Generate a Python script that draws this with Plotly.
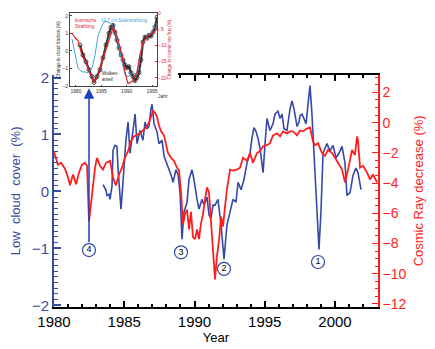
import plotly.graph_objects as go

# ---------------- main series ----------------
# Low cloud cover anomaly (%)
cloud_year = [1983.49, 1983.70, 1983.77, 1983.91, 1983.99, 1984.13, 1984.20, 1984.34, 1984.48, 1984.56,
              1984.77, 1984.91, 1985.12, 1985.27, 1985.41, 1985.62, 1985.77, 1985.91, 1986.12, 1986.33,
              1986.48, 1986.62, 1986.76, 1986.90, 1986.98, 1987.12, 1987.33, 1987.47, 1987.69, 1987.83,
              1987.97, 1988.11, 1988.33, 1988.47, 1988.68, 1988.83, 1988.97, 1989.11, 1989.25, 1989.47,
              1989.61, 1989.82, 1989.96, 1990.18, 1990.32, 1990.53, 1990.68, 1990.89, 1991.03, 1991.17,
              1991.32, 1991.46, 1991.67, 1991.89, 1992.10, 1992.31, 1992.53, 1992.74, 1992.95, 1993.10,
              1993.31, 1993.52, 1993.74, 1993.95, 1994.09, 1994.23, 1994.38, 1994.52, 1994.66, 1994.88,
              1995.02, 1995.16, 1995.37, 1995.59, 1995.73, 1995.94, 1996.09, 1996.23, 1996.37, 1996.58,
              1996.80, 1996.94, 1997.08, 1997.30, 1997.44, 1997.51, 1997.65, 1997.79, 1997.94, 1998.08,
              1998.22, 1998.36, 1998.51, 1998.65, 1998.79, 1998.86, 1999.00, 1999.15, 1999.29, 1999.43,
              1999.64, 1999.86, 2000.07, 2000.28, 2000.50, 2000.71, 2000.85, 2001.07, 2001.28, 2001.49,
              2001.64, 2001.85]
cloud_pct = [0.12, 0.02, -0.07, -0.05, -0.14, 0.10, 0.72, 0.81, 0.79, 0.38,
             -0.31, 0.21, 0.90, 1.22, 0.67, 1.07, 1.36, 0.84, 1.07, 0.90,
             1.22, 1.10, 1.14, 1.45, 1.53, 1.19, 1.05, 0.84, 0.90, 0.62,
             0.53, 0.41, 0.29, 0.16, 0.38, 0.29, -0.02, -0.84, -0.36, -0.19,
             0.21, 0.38, 0.21, -0.14, -0.31, -0.14, -0.24, -0.10, -0.41, -0.48,
             -0.24, -0.24, -0.14, -0.59, -1.19, -0.59, -0.36, -0.14, -0.19, 0.16,
             0.03, 0.21, 0.50, 0.67, 0.93, 1.12, 1.05, 0.93, 0.76, 0.33,
             0.84, 1.28, 1.07, 1.19, 1.36, 1.41, 1.28, 1.36, 1.10, 1.07,
             1.45, 1.59, 1.45, 1.14, 1.22, 1.33, 1.36, 1.28, 1.19, 1.53,
             1.86, 1.36, 0.67, -0.19, -0.79, -1.02, -0.36, 0.67, 0.76, 0.84,
             0.71, 0.81, 0.59, 0.67, 0.79, 0.50, -0.07, -0.02, 0.28, 0.41,
             0.33, 0.03]

# Cosmic ray decrease (%)
cr_year = [1980.00, 1980.28, 1980.50, 1980.78, 1981.00, 1981.14, 1981.35, 1981.57, 1981.78, 1981.99,
           1982.21, 1982.35, 1982.49, 1982.70, 1982.92, 1983.06, 1983.27, 1983.49, 1983.70, 1983.99,
           1984.20, 1984.41, 1984.63, 1984.84, 1985.05, 1985.27, 1985.48, 1985.69, 1985.91, 1986.12,
           1986.33, 1986.55, 1986.76, 1986.90, 1987.05, 1987.19, 1987.33, 1987.47, 1987.62, 1987.83,
           1987.97, 1988.11, 1988.33, 1988.54, 1988.75, 1988.90, 1989.04, 1989.18, 1989.32, 1989.47,
           1989.61, 1989.75, 1989.89, 1990.04, 1990.18, 1990.32, 1990.46, 1990.60, 1990.75, 1990.89,
           1991.03, 1991.17, 1991.32, 1991.46, 1991.60, 1991.74, 1991.89, 1992.03, 1992.17, 1992.31,
           1992.53, 1992.74, 1993.02, 1993.24, 1993.45, 1993.74, 1993.95, 1994.16, 1994.45, 1994.66,
           1994.88, 1995.16, 1995.37, 1995.59, 1995.87, 1996.09, 1996.30, 1996.58, 1996.80, 1997.01,
           1997.30, 1997.51, 1997.72, 1998.01, 1998.22, 1998.36, 1998.43, 1998.58, 1998.79, 1999.07,
           1999.29, 1999.50, 1999.79, 2000.00, 2000.21, 2000.50, 2000.71, 2000.93, 2001.21, 2001.42,
           2001.57, 2001.64, 2001.78, 2001.99, 2002.28, 2002.49, 2002.70, 2002.99]
cr_pct = [-1.94, -2.79, -2.66, -3.05, -3.63, -4.15, -3.43, -4.08, -3.31, -2.79,
          -2.66, -2.85, -6.55, -4.93, -2.98, -2.33, -2.85, -3.11, -2.66, -2.53,
          -3.63, -4.15, -3.43, -2.98, -2.33, -1.88, -1.23, -0.91, -0.78, -0.71,
          -0.52, -0.32, 0.00, 0.32, 0.78, 0.65, 0.39, -0.19, -0.58, -0.84,
          -1.36, -2.01, -2.33, -2.53, -2.98, -3.18, -4.60, -6.74, -6.03, -5.77,
          -7.06, -5.90, -7.58, -7.71, -7.06, -7.71, -6.68, -6.09, -5.06, -4.28,
          -4.60, -6.42, -8.49, -10.37, -8.81, -7.84, -6.22, -6.87, -5.57, -4.41,
          -3.11, -3.18, -3.11, -2.98, -2.33, -2.53, -2.01, -2.66, -2.01, -1.88,
          -1.56, -1.49, -1.36, -0.84, -0.71, -0.91, -0.58, -0.71, -0.58, -0.58,
          -0.84, -0.52, -0.58, -0.39, -0.32, -0.84, -1.23, -1.49, -1.36, -2.01,
          -2.20, -1.81, -2.01, -2.33, -2.66, -3.11, -3.95, -3.11, -1.81, -2.14,
          -0.91, -1.23, -2.98, -2.85, -3.31, -3.76, -3.43, -3.95]

# numbered events: label, year, level on the cloud axis
event_labels = ["1", "2", "3", "4"]
event_year = [1998.79, 1992.10, 1989.04, 1982.49]
event_level = [-1.24, -1.36, -1.07, -1.03]

# ---------------- inset series ----------------
inset_cloud_year = [1980.79, 1981.38, 1981.97, 1982.56, 1983.16, 1983.55, 1984.14, 1984.73, 1985.33, 1985.92,
                    1986.51, 1986.90, 1987.30, 1987.69, 1988.09, 1988.48, 1988.88, 1989.27, 1989.66, 1990.06,
                    1990.45, 1990.85, 1991.24, 1991.64, 1992.03, 1992.43, 1992.82, 1993.21, 1993.61, 1994.00,
                    1994.40, 1994.79, 1995.19, 1995.58, 1995.98]
inset_cloud = [0.34, -0.23, -0.62, -1.07, -1.46, -1.80, -1.46, -1.07, -0.39, 0.34,
               1.01, 1.35, 1.46, 1.07, 0.62, 0.17, -0.23, -0.51, -0.79, -0.96,
               -0.90, -1.24, -1.46, -1.69, -1.52, -1.24, -0.51, 0.51, 0.79, 0.73,
               0.90, 0.85, 1.07, 1.35, 1.92]

inset_cr_year = [1979.21, 1979.80, 1980.39, 1981.18, 1982.17, 1983.16, 1983.55, 1984.14, 1985.13, 1986.11,
                 1987.10, 1987.30, 1988.09, 1989.07, 1989.66, 1990.26, 1991.05, 1992.03, 1992.62, 1993.21,
                 1994.20, 1995.19, 1995.98]
inset_cr = [-6.1, -7.6, -8.5, -13.0, -16.1, -19.7, -21.5, -20.0, -15.2, -10.0,
            -5.5, -4.5, -7.0, -13.0, -18.2, -21.8, -21.2, -18.2, -13.0, -9.1,
            -7.0, -6.1, -4.8]

inset_solar_year = [1979.21, 1979.80, 1980.39, 1981.18, 1981.78, 1982.37, 1983.16, 1983.75, 1984.34, 1985.13,
                    1985.72, 1986.71, 1987.49, 1988.28, 1989.07, 1989.66, 1990.26, 1991.24, 1992.03, 1992.62,
                    1993.21, 1994.00, 1994.99, 1995.58]
inset_solar = [-7.9, -13.0, -17.0, -18.2, -18.2, -18.5, -17.0, -13.0, -7.0, -3.9,
               -2.4, -3.0, -4.5, -9.1, -15.2, -19.1, -19.7, -18.5, -19.1, -13.0,
               -9.1, -7.6, -5.5, -3.9]

inset_year_ticks = [1980, 1985, 1990, 1995]

# ---------------- geometry / style ----------------
W, H = 435, 349
L, R, T, B = 54, 57, 5, 42
PW, PH = W - L - R, H - T - B


def fx(px):
    return (px - L) / PW


def fy(py):
    return (H - B - py) / PH


X0, X1 = 1980, 2003.06
BLUE = "#3548a8"
AXBLUE = "#3a4c9c"
RED = "#ff1e1e"
FONT = "Liberation Sans"
LIGHTBLUE = "#4aa0d8"

fig = go.Figure()

# main curves
fig.add_trace(go.Scatter(x=cr_year, y=cr_pct, yaxis="y2", mode="lines",
                         line=dict(color=RED, width=1.8), showlegend=False, hoverinfo="skip"))
fig.add_trace(go.Scatter(x=cloud_year, y=cloud_pct, mode="lines",
                         line=dict(color=BLUE, width=1.6), showlegend=False, hoverinfo="skip"))

# numbered event circles
fig.add_trace(go.Scatter(x=event_year, y=event_level, mode="markers+text",
                         text=event_labels, textposition="middle center",
                         textfont=dict(family=FONT, size=9, color="black"),
                         marker=dict(symbol="circle", size=13, color="white",
                                     line=dict(color=BLUE, width=1.2)),
                         showlegend=False, hoverinfo="skip"))

# carrier for the partial top axis
fig.add_trace(go.Scatter(x=[cr_year[-1]], y=[cloud_pct[-1]], xaxis="x5", mode="markers",
                         marker=dict(opacity=0), showlegend=False, hoverinfo="skip"))

# inset curves
fig.add_trace(go.Scatter(x=inset_solar_year, y=inset_solar, xaxis="x3", yaxis="y4", mode="lines",
                         line=dict(color=LIGHTBLUE, width=1), showlegend=False, hoverinfo="skip"))
fig.add_trace(go.Scatter(x=inset_cr_year, y=inset_cr, xaxis="x3", yaxis="y4", mode="lines",
                         line=dict(color="#e8202a", width=1.2), showlegend=False, hoverinfo="skip"))
fig.add_trace(go.Scatter(x=inset_cloud_year, y=inset_cloud, xaxis="x3", yaxis="y3", mode="lines+markers",
                         line=dict(color="#3a3a3a", width=2.2),
                         marker=dict(symbol="circle-open", size=4, color="#222222", line=dict(width=0.8)),
                         showlegend=False, hoverinfo="skip"))

main_y_dom = [0, fy(70)]
inset_x_dom = [fx(70), fx(157)]
inset_y_dom = [fy(82), fy(7)]
seg0 = fx(178)

fig.update_layout(
    width=W, height=H,
    margin=dict(l=L, r=R, t=T, b=B),
    paper_bgcolor="white", plot_bgcolor="rgba(0,0,0,0)",
    font=dict(family=FONT, size=14, color="black"),
    xaxis=dict(domain=[0, 1], range=[X0, X1], anchor="y",
               showline=True, linecolor="black", linewidth=2,
               ticks="inside", ticklen=6, tickwidth=1.5, tickcolor="black",
               tick0=1980, dtick=5,
               minor=dict(ticks="inside", ticklen=3, tickwidth=1.5, tickcolor="black", dtick=1),
               showgrid=False, zeroline=False,
               tickfont=dict(size=15, color="black"),
               title=dict(text="Year", font=dict(size=13, color="black"), standoff=2)),
    xaxis5=dict(domain=[seg0, 1], range=[X0 + seg0 * (X1 - X0), X1], anchor="y", side="top",
                showline=True, linecolor="black", linewidth=2,
                ticks="inside", ticklen=6, tickwidth=1.5, tickcolor="black",
                tick0=1980, dtick=5, showticklabels=False,
                minor=dict(ticks="inside", ticklen=3, tickwidth=1.5, tickcolor="black", dtick=1),
                showgrid=False, zeroline=False),
    yaxis=dict(domain=main_y_dom, range=[-2.03, 2.05], anchor="x",
               showline=True, linecolor=AXBLUE, linewidth=2,
               ticks="inside", ticklen=7, tickwidth=1.5, tickcolor=AXBLUE,
               tick0=0, dtick=1,
               minor=dict(ticks="inside", ticklen=3.5, tickwidth=1.2, tickcolor=AXBLUE, dtick=0.1),
               showgrid=False, zeroline=False,
               tickfont=dict(size=15, color=AXBLUE),
               title=dict(text="Low  cloud  cover  (%)", font=dict(size=13, color=AXBLUE), standoff=8)),
    yaxis2=dict(overlaying="y", side="right", anchor="x", range=[-12.2, 3.17],
                showline=True, linecolor=RED, linewidth=1.5,
                ticks="inside", ticklen=6, tickwidth=1.3, tickcolor=RED,
                tick0=0, dtick=2,
                minor=dict(ticks="inside", ticklen=3, tickwidth=1.2, tickcolor=RED, dtick=0.5),
                showgrid=False, zeroline=False,
                tickfont=dict(size=14, color=RED),
                title=dict(text="Cosmic Ray decrease (%)", font=dict(size=13, color=RED), standoff=8)),
    # inset
    xaxis3=dict(domain=inset_x_dom, range=[1978.82, 1995.98], anchor="y3",
                showline=True, linecolor="#444444", linewidth=0.8, mirror=True,
                ticks="inside", ticklen=2, tickwidth=0.6, tickcolor="#444444",
                tickvals=inset_year_ticks, tickfont=dict(size=5, color="#333333"),
                showgrid=False, zeroline=False),
    yaxis3=dict(domain=inset_y_dom, range=[-2.03, 2.17], anchor="x3",
                showline=True, linecolor="#444444", linewidth=0.8, mirror=True,
                ticks="inside", ticklen=2, tickwidth=0.6, tickcolor="#444444",
                dtick=1, tickfont=dict(size=5, color="#333333"),
                showgrid=False, zeroline=False,
                title=dict(text="Change in cloud fraction (%)", font=dict(size=4.5, color="#333333"),
                           standoff=1)),
    yaxis4=dict(overlaying="y3", side="right", anchor="x3", range=[-22.7, 0.1],
                showline=False, ticks="inside", ticklen=2, tickwidth=0.6, tickcolor="#d03030",
                dtick=5, tickfont=dict(size=5, color="#d03030"),
                showgrid=False, zeroline=False,
                title=dict(text="Change in cosmic ray flux (%)", font=dict(size=4.5, color="#d03030"),
                           standoff=1)),
)

# inset labels
fig.add_annotation(x=fx(163), y=fy(87), xref="paper", yref="paper", text="Jahr", showarrow=False,
                   font=dict(size=5, color="#333333"))
fig.add_annotation(x=1981.9, y=1.55, xref="x3", yref="y3", text="kosmische<br>Strahlung", showarrow=False,
                   font=dict(size=4.5, color="#e8202a"), align="left")
fig.add_annotation(x=1989.6, y=1.75, xref="x3", yref="y3", text="10.7 cm Solarstrahlung", showarrow=False,
                   font=dict(size=4.5, color=LIGHTBLUE))
fig.add_annotation(x=1986.9, y=-1.45, xref="x3", yref="y3", text="Wolken-<br>anteil", showarrow=False,
                   font=dict(size=4.5, color="#222222"), align="left")

# arrow from event 4 up to the inset
fig.add_annotation(x=event_year[3], y=1.81, ax=event_year[3], ay=event_level[3] + 0.11,
                   xref="x", yref="y", axref="x", ayref="y", text="", showarrow=True,
                   arrowhead=2, arrowsize=1.4, arrowwidth=1.5, arrowcolor="#1f3fc0")

fig.write_html("out.html")
